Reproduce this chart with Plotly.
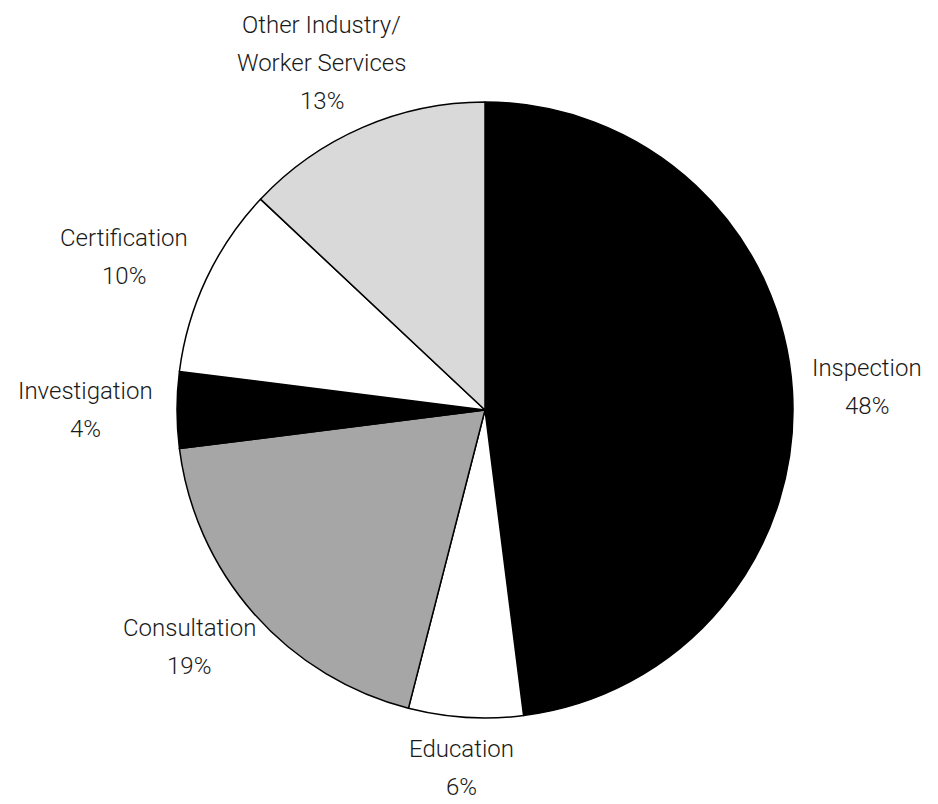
import math
import plotly.graph_objects as go

labels = ["Inspection", "Education", "Consultation", "Investigation",
          "Certification", "Other Industry/\nWorker Services"]
values = [48, 6, 19, 4, 10, 13]
colors = ["#000000", "#ffffff", "#a6a6a6", "#000000", "#ffffff", "#d9d9d9"]

W, H = 938, 804
cx, cy, r = 485, 410, 308      # pie centre / radius in figure px
FONT = dict(family="Roboto", size=24, color="#1a1a1a", weight=300)
LINE = 38                      # label line spacing in px
GAP = 20                       # gap between rim and label block
CHAR_W = 11.0

fig = go.Figure(go.Pie(
    labels=[l.replace("\n", " ") for l in labels],
    values=values,
    sort=False,
    direction="clockwise",
    rotation=0,
    marker=dict(colors=colors, line=dict(color="#000000", width=1.5)),
    textinfo="none",
    showlegend=False,
    hoverinfo="label+percent",
    domain=dict(x=[(cx - r) / W, (cx + r) / W], y=[(H - cy - r) / H, (H - cy + r) / H]),
))

total = sum(values)
cum = 0
for lab, v in zip(labels, values):
    mid = (cum + v / 2) / total * 2 * math.pi
    cum += v
    lines = lab.split("\n") + [f"{round(100 * v / total)}%"]
    w = max(len(s) for s in lines) * CHAR_W
    h = (len(lines) - 1) * LINE + 24
    s, c = math.sin(mid), math.cos(mid)
    ax = cx + (r + GAP) * s
    ay = cy - (r + GAP) * c
    x0 = ax + w / 2 * s
    y0 = ay - h / 2 * c
    top = y0 - (len(lines) - 1) * LINE / 2
    for i, txt in enumerate(lines):
        ypx = top + i * LINE
        fig.add_annotation(
            x=x0 / W, y=(H - ypx) / H, xref="paper", yref="paper",
            text=txt, showarrow=False, xanchor="center", yanchor="middle",
            font=FONT,
        )

fig.update_layout(
    width=W, height=H,
    margin=dict(l=0, r=0, t=0, b=0),
    paper_bgcolor="white",
    plot_bgcolor="white",
)
fig.write_html("out.html",
               config={"displayModeBar": False},
               post_script="document.body.style.margin='0';document.body.style.overflow='hidden';")
